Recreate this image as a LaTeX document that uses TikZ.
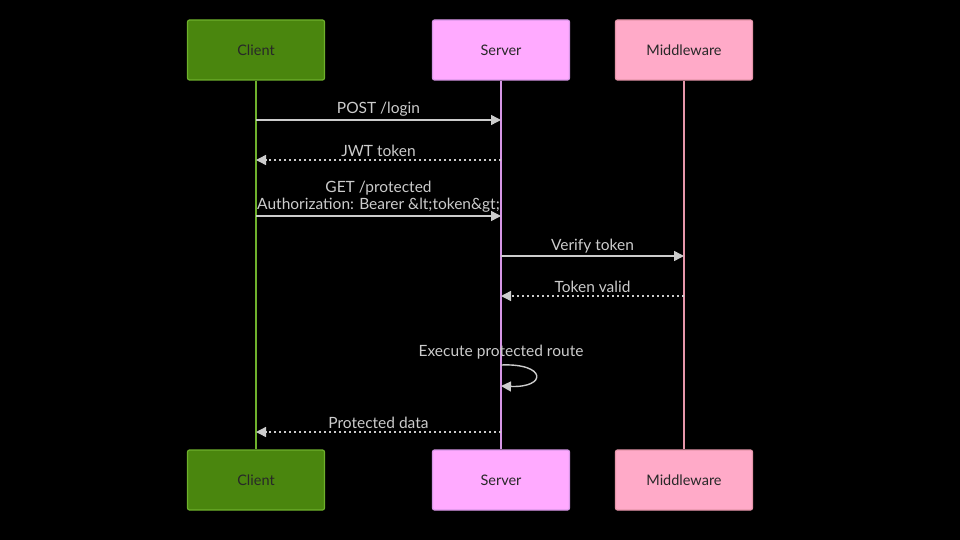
\documentclass[tikz,border=0pt]{standalone}
\usepackage{fontspec}
\setmainfont{Lato}
\usetikzlibrary{arrows.meta,positioning,calc}
\definecolor{fondo}{RGB}{0,0,0}
\definecolor{verdec}{RGB}{74,134,14}
\definecolor{verdeb}{RGB}{110,176,44}
\definecolor{violeta}{RGB}{255,170,255}
\definecolor{violetab}{RGB}{214,150,230}
\definecolor{rosa}{RGB}{255,170,200}
\definecolor{rosab}{RGB}{230,150,170}
\definecolor{gris}{RGB}{204,204,204}
\definecolor{tinta}{RGB}{40,40,40}
\tikzset{
  actor/.style={draw, rounded corners=2pt, minimum width=137pt, minimum height=60pt, align=center, font=\fontsize{14.5}{16}\selectfont, text=tinta, line width=1.2pt},
  cli/.style={actor, fill=verdec, draw=verdeb},
  srv/.style={actor, fill=violeta, draw=violetab},
  mid/.style={actor, fill=rosa, draw=rosab},
  vida/.style={line width=1.5pt},
  msg/.style={-{Triangle[length=10pt,width=10pt]}, gris, line width=1.4pt},
  resp/.style={msg, dash pattern=on 2.5pt off 2.5pt},
  et/.style={text=gris, font=\fontsize{15.5}{17}\selectfont, align=center, inner sep=1pt},
}
\begin{document}
\begin{tikzpicture}[x=1pt, y=-1pt]
  \fill[fondo] (0,0) rectangle (960,540);
  \useasboundingbox (0,0) rectangle (960,540);
  % actors
  \node[cli] (cliT) at (256,50) {Client};
  \node[srv] (srvT) at (501,50) {Server};
  \node[mid] (midT) at (684,50) {Middleware};
  \node[cli] (cliB) at (256,480) {Client};
  \node[srv] (srvB) at (501,480) {Server};
  \node[mid] (midB) at (684,480) {Middleware};
  % lifelines
  \draw[vida, verdeb] (cliT) -- (cliB);
  \draw[vida, violetab] (srvT) -- (srvB);
  \draw[vida, rosab] (midT) -- (midB);
  % message points
  \coordinate (c1) at (256,120); \coordinate (s1) at (501,120);
  \coordinate (c2) at (256,160); \coordinate (s2) at (501,160);
  \coordinate (c3) at (256,216); \coordinate (s3) at (501,216);
  \coordinate (s4) at (501,256); \coordinate (m4) at (684,256);
  \coordinate (s5) at (501,296); \coordinate (m5) at (684,296);
  \coordinate (s6) at (501,365); \coordinate (s6b) at (501,386);
  \coordinate (c7) at (256,432); \coordinate (s7) at (501,432);
  % messages
  \draw[msg] (c1) -- (s1);
  \node[et, above=2pt] at ($(c1)!0.5!(s1)$) {POST /login};
  \draw[resp] (s2) -- (c2);
  \node[et, above=2pt] at ($(c2)!0.5!(s2)$) {JWT token};
  \draw[msg] (c3) -- (s3);
  \node[et, above=2pt] at ($(c3)!0.5!(s3)$) {GET /protected\\Authorization: Bearer \&lt;token\&gt;};
  \draw[msg] (s4) -- (m4);
  \node[et, above=2pt] at ($(s4)!0.5!(m4)$) {Verify token};
  \draw[resp] (m5) -- (s5);
  \node[et, above=2pt] at ($(s5)!0.5!(m5)$) {Token valid};
  \node[et] at (501,352) {Execute protected route};
  \draw[msg] (s6) .. controls (547,363) and (547,388) .. (s6b);
  \draw[resp] (s7) -- (c7);
  \node[et, above=2pt] at ($(c7)!0.5!(s7)$) {Protected data};
\end{tikzpicture}
\end{document}
